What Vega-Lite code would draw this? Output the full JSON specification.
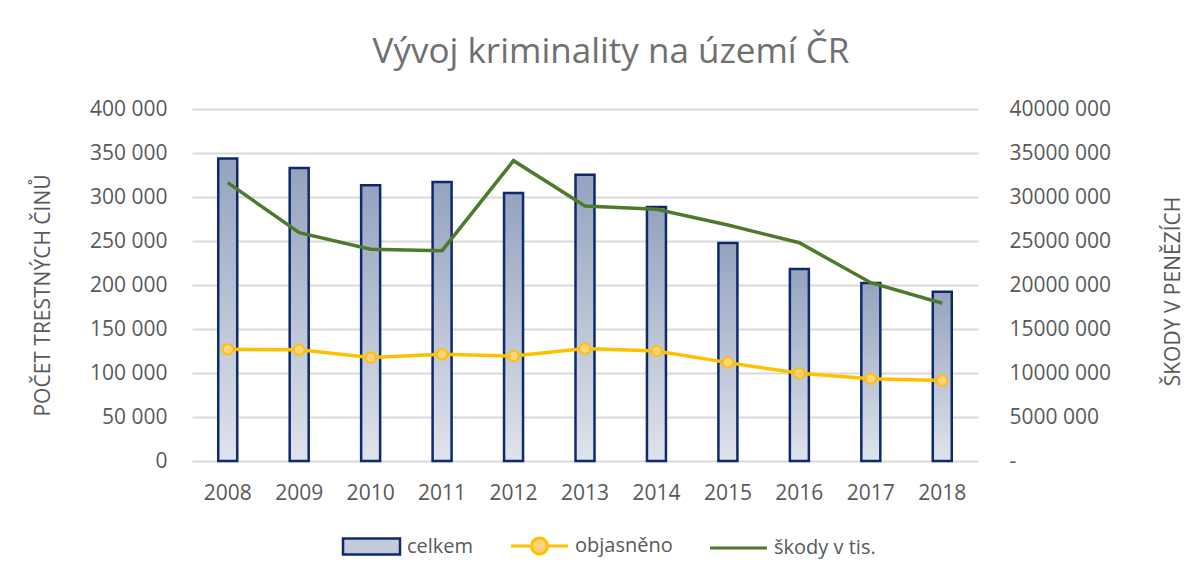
{
  "$schema": "https://vega.github.io/schema/vega-lite/v6.json",
  "width": 786,
  "height": 352,
  "autosize": {"type": "none"},
  "padding": {"left": 192, "top": 109, "right": 225, "bottom": 118},
  "background": "white",
  "title": {
    "text": "Vývoj kriminality na území ČR",
    "fontSize": 35,
    "font": "Open Sans",
    "fontWeight": "normal",
    "color": "#707070",
    "anchor": "middle",
    "dx": 26,
    "offset": 28
  },
  "config": {
    "font": "Open Sans",
    "view": {"stroke": null},
    "axis": {
      "labelFont": "Open Sans",
      "labelFontSize": 21,
      "labelColor": "#595959",
      "titleFont": "Open Sans",
      "titleFontSize": 21,
      "titleFontWeight": "normal",
      "titleColor": "#595959",
      "ticks": false,
      "domain": false
    }
  },
  "data": {
    "values": [
      {"rok": "2008", "celkem": 343799, "objasneno": 127000, "skody": 31630000},
      {"rok": "2009", "celkem": 332829, "objasneno": 126300, "skody": 25940000},
      {"rok": "2010", "celkem": 313387, "objasneno": 117600, "skody": 24060000},
      {"rok": "2011", "celkem": 317177, "objasneno": 121300, "skody": 23900000},
      {"rok": "2012", "celkem": 304528, "objasneno": 119200, "skody": 34130000},
      {"rok": "2013", "celkem": 325366, "objasneno": 127700, "skody": 28980000},
      {"rok": "2014", "celkem": 288660, "objasneno": 124900, "skody": 28600000},
      {"rok": "2015", "celkem": 247628, "objasneno": 111800, "skody": 26820000},
      {"rok": "2016", "celkem": 218162, "objasneno": 99800, "skody": 24800000},
      {"rok": "2017", "celkem": 202303, "objasneno": 93600, "skody": 20260000},
      {"rok": "2018", "celkem": 192405, "objasneno": 91400, "skody": 17920000}
    ]
  },
  "encoding": {
    "x": {
      "field": "rok",
      "type": "ordinal",
      "scale": {"paddingInner": 0, "paddingOuter": 0},
      "axis": {"title": null, "labelAngle": 0, "labelPadding": 21, "grid": false}
    }
  },
  "layer": [
    {
      "layer": [
        {
          "mark": {
            "type": "bar",
            "size": 19,
            "fill": {
              "gradient": "linear",
              "x1": 0, "y1": 0, "x2": 0, "y2": 1,
              "stops": [
                {"offset": 0, "color": "#95a3bf"},
                {"offset": 1, "color": "#dfe3eb"}
              ]
            },
            "stroke": "#0e2a6e",
            "strokeWidth": 2.5
          },
          "encoding": {
            "y": {
              "field": "celkem",
              "type": "quantitative",
              "scale": {"domain": [0, 400000]},
              "axis": {
                "title": "POČET TRESTNÝCH ČINŮ",
                "values": [0, 50000, 100000, 150000, 200000, 250000, 300000, 350000, 400000],
                "labelExpr": "datum.value === 0 ? '0' : floor(datum.value/1000) + ' 000'",
                "labelPadding": 25,
                "grid": true,
                "gridColor": "#d9d9d9",
                "gridWidth": 2,
                "titleX": -149,
                "titleY": 186,
                "titleAngle": 270,
                "titleAlign": "center",
                "titleBaseline": "middle"
              }
            }
          }
        },
        {
          "mark": {"type": "line", "strokeWidth": 3.5},
          "encoding": {
            "y": {"field": "objasneno", "type": "quantitative"},
            "color": {
              "datum": "objasněno",
              "scale": {
                "domain": ["celkem", "objasněno", "škody v tis."],
                "range": ["#0e2a6e", "#ffc000", "#4f7a2c"]
              },
              "legend": {
                "orient": "none",
                "legendX": 151,
                "legendY": 427,
                "direction": "horizontal",
                "columns": 3,
                "title": null,
                "padding": 0,
                "symbolSize": 2500,
                "labelFont": "Open Sans",
                "labelFontSize": 20,
                "labelColor": "#595959",
                "labelOffset": 44,
                "columnPadding": 31,
                "encode": {
                  "symbols": {
                    "update": {
                      "shape": {"signal": "datum.value === 'celkem' ? 'M-0.4,-0.32H1.88V0.32H-0.4Z' : datum.value === 'objasněno' ? 'M-0.4,0H0.42M0.42,0A0.32,0.32 0 1 1 1.06,0A0.32,0.32 0 1 1 0.42,0M1.06,0H1.88' : 'M-0.4,0H1.88'"},
                      "fill": {"signal": "datum.value === 'celkem' ? '#c3cad9' : datum.value === 'objasněno' ? '#ffd280' : 'transparent'"},
                      "stroke": {"signal": "datum.value === 'celkem' ? '#0e2a6e' : datum.value === 'objasněno' ? '#ffc000' : '#4f7a2c'"},
                      "strokeWidth": {"signal": "datum.value === 'celkem' ? 2.5 : 3"},
                      "opacity": {"value": 1},
                      "fillOpacity": {"value": 1},
                      "strokeOpacity": {"value": 1}
                    }
                  }
                }
              }
            }
          }
        },
        {
          "mark": {
            "type": "point",
            "filled": true,
            "fill": "#ffd280",
            "stroke": "#ffc000",
            "strokeWidth": 2,
            "size": 110,
            "opacity": 1
          },
          "encoding": {
            "y": {"field": "objasneno", "type": "quantitative"}
          }
        }
      ]
    },
    {
      "mark": {"type": "line", "strokeWidth": 3.5},
      "encoding": {
        "y": {
          "field": "skody",
          "type": "quantitative",
          "scale": {"domain": [0, 40000000]},
          "axis": {
            "orient": "right",
            "title": "ŠKODY V PENĚZÍCH",
            "values": [0, 5000000, 10000000, 15000000, 20000000, 25000000, 30000000, 35000000, 40000000],
            "labelExpr": "datum.value === 0 ? '-' : floor(datum.value/1000) + ' 000'",
            "labelPadding": 31,
            "labelAlign": "left",
            "grid": false,
            "titleX": 195,
            "titleY": 182,
            "titleAngle": 270,
            "titleAlign": "center",
            "titleBaseline": "middle"
          }
        },
        "color": {"datum": "škody v tis."}
      }
    }
  ],
  "resolve": {"scale": {"y": "independent"}}
}
